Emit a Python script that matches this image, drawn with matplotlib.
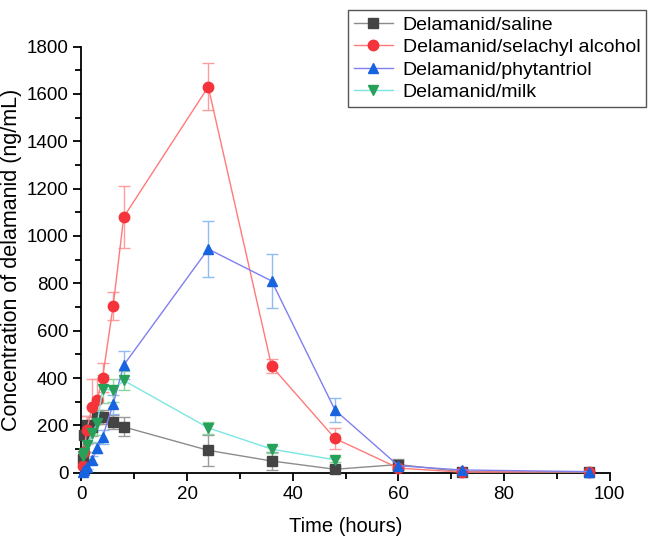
import matplotlib.pyplot as plt
from matplotlib.ticker import MultipleLocator

plt.rcParams['font.family'] = ['Liberation Sans', 'DejaVu Sans']

# Sampling times (hours)
t = [0.25, 0.5, 1, 2, 3, 4, 6, 8, 24, 36, 48, 60, 72, 96]
t_milk = [0.25, 0.5, 1, 2, 3, 4, 6, 8, 24, 36, 48]

saline = [60, 160, 200, 195, 236, 236, 215, 194, 95, 50, 15, 35, 5, 2]
saline_err = [20, 40, 40, 40, 30, 30, 30, 40, 65, 40, 15, 25, 5, 2]

selachyl = [30, 90, 180, 278, 307, 402, 705, 1080, 1630, 450, 145, 20, 3, 5]
selachyl_err = [15, 30, 60, 120, 90, 60, 60, 130, 100, 30, 45, 10, 3, 3]

phytantriol = [5, 10, 25, 54, 104, 152, 290, 455, 945, 810, 265, 30, 12, 5]
phytantriol_err = [3, 5, 10, 15, 20, 30, 40, 60, 120, 115, 50, 20, 5, 3]

milk = [70, 83, 117, 170, 210, 355, 348, 390, 190, 100, 55]
milk_err = [20, 30, 30, 40, 50, 60, 50, 40, 25, 15, 10]

series = [
    (t, saline, saline_err, 'Delamanid/saline', 's', '#444444', '#8c8c8c', '#9a9a9a'),
    (t, selachyl, selachyl_err, 'Delamanid/selachyl alcohol', 'o', '#f5333a', '#ff7a7a', '#ff9c9c'),
    (t, phytantriol, phytantriol_err, 'Delamanid/phytantriol', '^', '#1763e0', '#7f7ff0', '#8fbcf5'),
    (t_milk, milk, milk_err, 'Delamanid/milk', 'v', '#27a05a', '#7ae6e0', '#8ad6a0'),
]

fig = plt.figure(figsize=(6.57, 5.41), dpi=100)
ax = fig.add_axes([0.124, 0.126, 0.804, 0.788])

for x, y, e, label, m, mc, lc, ec in series:
    ax.errorbar(x, y, yerr=e, fmt='none', ecolor=ec, elinewidth=1.0,
                capsize=4, capthick=1.0, zorder=2)
    ax.plot(x, y, color=lc, lw=1.0, marker=m, markersize=7.5,
            markerfacecolor=mc, markeredgecolor=mc, label=label,
            clip_on=False, zorder=3)

ax.set_xlim(0, 100)
ax.set_ylim(0, 1800)
ax.xaxis.set_major_locator(MultipleLocator(20))
ax.xaxis.set_minor_locator(MultipleLocator(10))
ax.yaxis.set_major_locator(MultipleLocator(200))
ax.yaxis.set_minor_locator(MultipleLocator(100))
ax.tick_params(which='major', direction='out', length=6, width=1.3, labelsize=13.5)
ax.tick_params(which='minor', direction='out', length=4, width=1.3)
for s in ['top', 'right']:
    ax.spines[s].set_visible(False)
for s in ['left', 'bottom']:
    ax.spines[s].set_linewidth(1.3)

ax.set_xlabel('Time (hours)', fontsize=14.5, labelpad=10)
ax.set_ylabel('Concentration of delamanid (ng/mL)', fontsize=15.5, labelpad=3)

leg = fig.legend(loc='upper right', bbox_to_anchor=(0.998, 0.999), fontsize=14,
                 fancybox=False, edgecolor='#555555', framealpha=1,
                 handlelength=2.0, borderpad=0.3, labelspacing=0.25, handletextpad=0.5)
leg.get_frame().set_linewidth(1.0)

fig.savefig('out.png', dpi=100)
